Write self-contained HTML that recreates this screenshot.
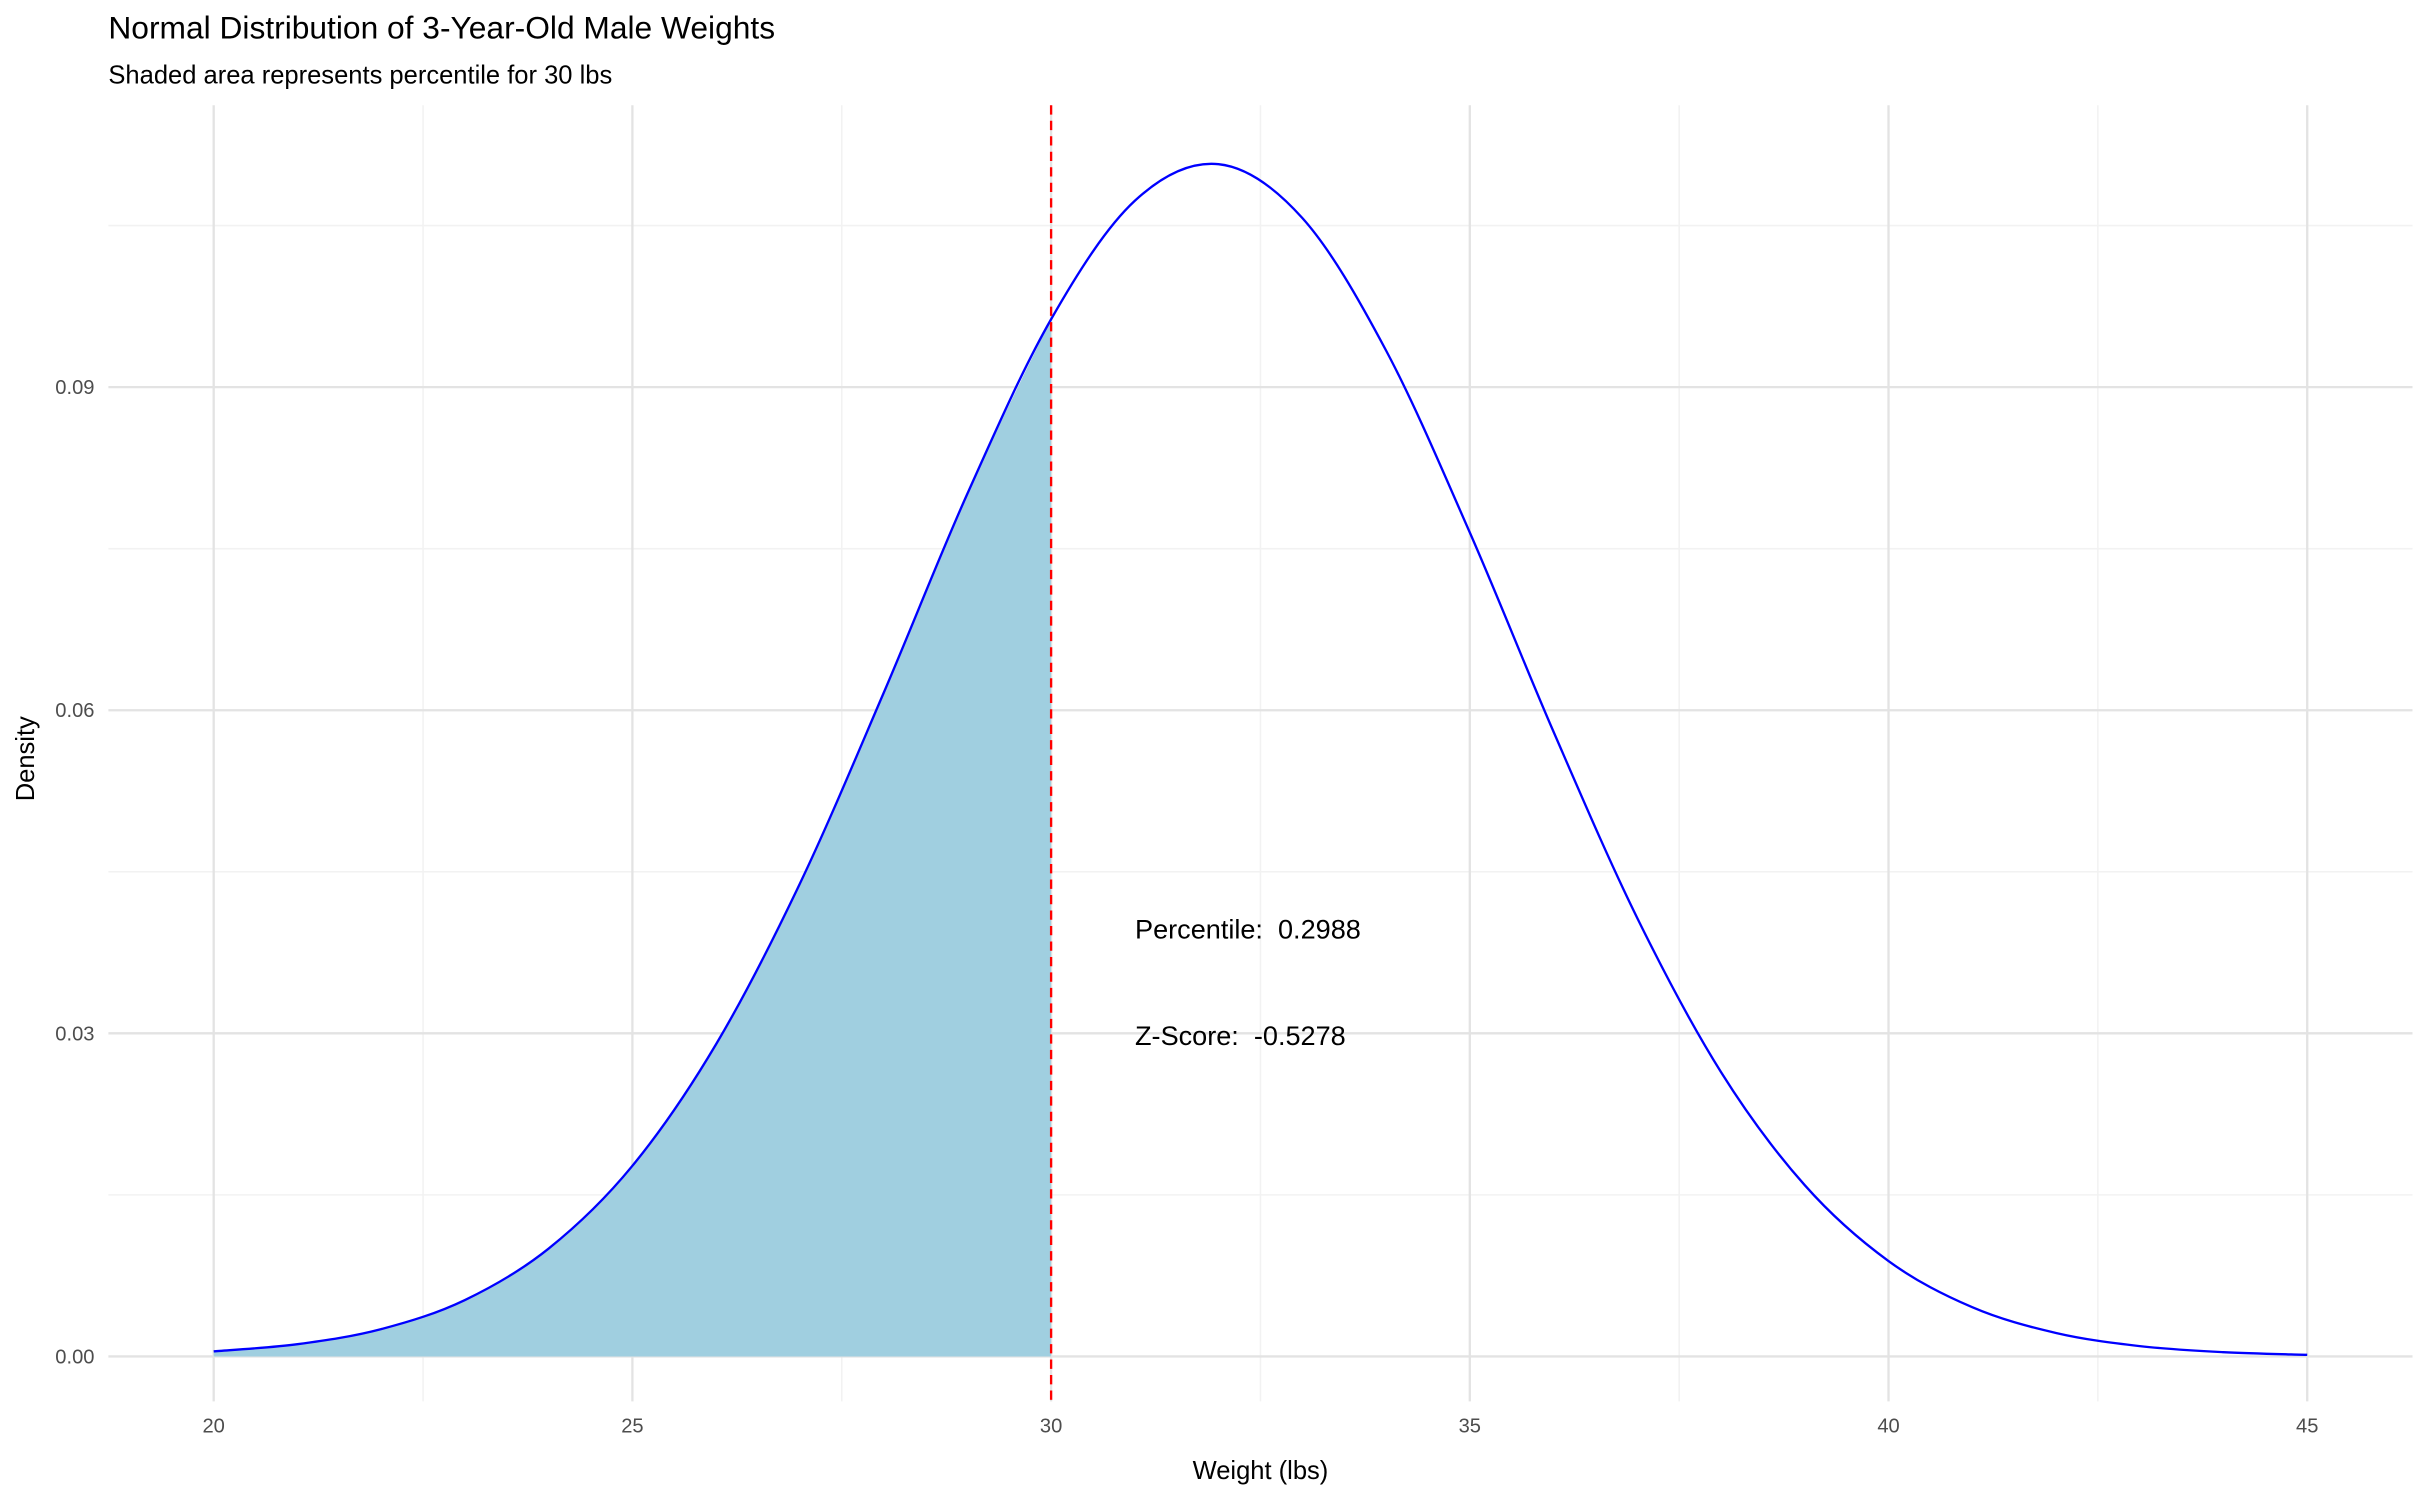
<!DOCTYPE html>
<html><head><meta charset="utf-8"><style>
html,body{margin:0;padding:0;background:#fff;}
svg{display:block;font-family:"Liberation Sans",Arial,sans-serif;}
text{white-space:pre;}
</style></head><body>
<svg id="chart" width="2428" height="1500" viewBox="0 0 1568 968.7" xmlns="http://www.w3.org/2000/svg">
<rect width="1568" height="968.7" fill="#fff"/>
<g id="grid"></g>
<g id="marks"></g>
<g id="axes"></g>
<text x="70" y="25" font-size="20.5" fill="#000">Normal Distribution of 3-Year-Old Male Weights</text>
<text x="70" y="54" font-size="16.5" fill="#000">Shaded area represents percentile for 30 lbs</text>
<text x="814" y="955" font-size="16.5" text-anchor="middle" fill="#000">Weight (lbs)</text>
<text transform="translate(22,490) rotate(-90)" font-size="16.5" text-anchor="middle" fill="#000">Density</text>
<text x="733" y="606" font-size="17.5" fill="#000">Percentile:&#160; 0.2988</text>
<text x="733" y="675" font-size="17.5" fill="#000">Z-Score:&#160; -0.5278</text>
</svg>
<script>
const weights=[20,21,22,23,24,25,26,27,28,29,30,31,32,33,34,35,36,37,38,39,40,41,42,43,44,45];
const densities=[0.000475,0.00114,0.00254,0.00524,0.01002,0.0177,0.0290,0.0439,0.0616,0.0801,0.0963,0.1073,0.1107,0.1057,0.0934,0.0765,0.0580,0.0407,0.0264,0.0159,0.00886,0.00457,0.00218,0.00096,0.000395,0.00015];
const xTicks=[20,25,30,35,40,45];
const xMinor=[22.5,27.5,32.5,37.5,42.5];
const yTicks=[0,0.03,0.06,0.09];
const yTickLabels=["0.00","0.03","0.06","0.09"];
const yMinor=[0.015,0.045,0.075,0.105];
const cutoff=30;
const NS="http://www.w3.org/2000/svg";
const X=v=>138+(v-20)*(1490-138)/25;
const Y=v=>876-v*(876-250)/0.09;
const L=70,R=1558,T=68,B=905;
function mk(tag,attrs,parent){const e=document.createElementNS(NS,tag);for(const k in attrs)e.setAttribute(k,attrs[k]);parent.appendChild(e);return e;}
const grid=document.getElementById('grid'),marks=document.getElementById('marks'),axes=document.getElementById('axes');
xMinor.forEach(v=>{const e=mk('line',{x1:X(v),x2:X(v),y1:T,y2:B,stroke:'#f2f2f2','stroke-width':1},grid);

});
yMinor.forEach(v=>{const e=mk('line',{x1:L,x2:R,y1:Y(v),y2:Y(v),stroke:'#f2f2f2','stroke-width':1},grid);

});
xTicks.forEach(v=>{const e=mk('line',{x1:X(v),x2:X(v),y1:T,y2:B,stroke:'#e3e3e3','stroke-width':1.5},grid);


const t=mk('text',{x:X(v),y:925,'font-size':13,'text-anchor':'middle',fill:'#4d4d4d'},axes);t.textContent=v;

});
yTicks.forEach((v,i)=>{const e=mk('line',{x1:L,x2:R,y1:Y(v),y2:Y(v),stroke:'#e3e3e3','stroke-width':1.5},grid);


const t=mk('text',{x:61,y:Y(v)+4.5,'font-size':13,'text-anchor':'end',fill:'#4d4d4d'},axes);t.textContent=yTickLabels[i];

});
function curve(xs,ys){const p=xs.map((x,i)=>[X(x),Y(ys[i])]);let d='M'+p[0][0]+','+p[0][1];
for(let i=0;i<p.length-1;i++){const p0=p[Math.max(i-1,0)],p1=p[i],p2=p[i+1],p3=p[Math.min(i+2,p.length-1)];
d+=' C'+(p1[0]+(p2[0]-p0[0])/6)+','+(p1[1]+(p2[1]-p0[1])/6)+' '+(p2[0]-(p3[0]-p1[0])/6)+','+(p2[1]-(p3[1]-p1[1])/6)+' '+p2[0]+','+p2[1];}return d;}
const n=weights.findIndex(w=>w>=cutoff)+1;
const sx=weights.slice(0,n),sy=densities.slice(0,n);
const area=mk('path',{d:curve(sx,sy)+' L'+X(cutoff)+','+Y(0)+' L'+X(sx[0])+','+Y(0)+' Z',fill:'#a0cfe0',stroke:'none'},marks);


const line=mk('path',{d:curve(weights,densities),fill:'none',stroke:'#0000ff','stroke-width':1.5},marks);


const vl=mk('line',{x1:X(cutoff),x2:X(cutoff),y1:T,y2:B,stroke:'#ff0000','stroke-width':1.5,'stroke-dasharray':'6,4'},marks);


</script>
</body></html>
